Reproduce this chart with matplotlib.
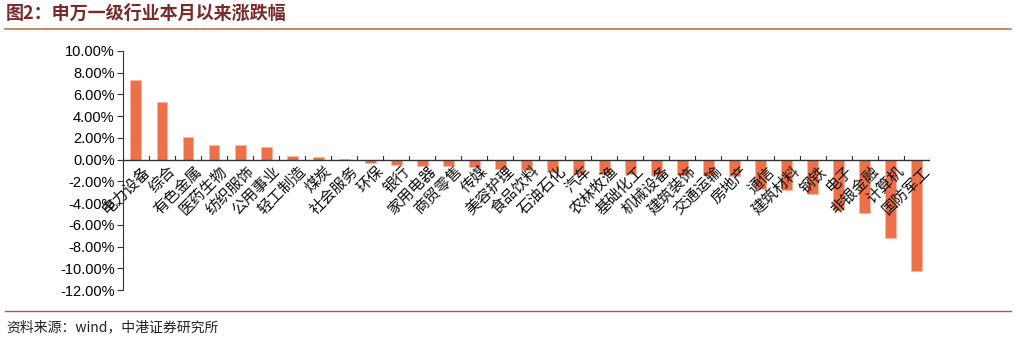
import matplotlib
matplotlib.use('Agg')
import matplotlib.pyplot as plt
from matplotlib.ticker import FuncFormatter

plt.rcParams['font.family'] = ['Noto Sans CJK SC', 'DejaVu Sans']

industries = ['电力设备', '综合', '有色金属', '医药生物', '纺织服饰', '公用事业', '轻工制造', '煤炭',
              '社会服务', '环保', '银行', '家用电器', '商贸零售', '传媒', '美容护理', '食品饮料',
              '石油石化', '汽车', '农林牧渔', '基础化工', '机械设备', '建筑装饰', '交通运输', '房地产',
              '通信', '建筑材料', '钢铁', '电子', '非银金融', '计算机', '国防军工']
changes = [7.34, 5.35, 2.07, 1.38, 1.34, 1.16, 0.30, 0.28,
           0.02, -0.31, -0.51, -0.58, -0.61, -0.67, -0.83, -0.98,
           -1.13, -1.28, -1.30, -1.32, -1.37, -1.38, -1.39, -1.50,
           -2.72, -2.80, -3.15, -4.59, -4.95, -7.25, -10.22]

title = '图2：申万一级行业本月以来涨跌幅'
source = '资料来源：wind，中港证券研究所'

fig = plt.figure(figsize=(10.16, 3.4), dpi=100)
ax = fig.add_axes([0.121, 0.147, 0.794, 0.703])

n = len(industries)
xs = list(range(n))
ax.bar(xs, changes, width=0.42, color='#EE7049', edgecolor='#F8B8A0', linewidth=0.6, zorder=2)

ax.set_xlim(-0.5, n - 0.5)
ax.set_ylim(-12, 10)
ax.set_yticks(range(-12, 11, 2))
ax.yaxis.set_major_formatter(FuncFormatter(lambda v, p: '%.2f%%' % v))
for lb in ax.get_yticklabels():
    lb.set_family(['Liberation Sans', 'DejaVu Sans'])
ax.tick_params(axis='y', direction='out', length=4, width=0.8, labelsize=10.5, pad=2, colors='#333333')
ax.tick_params(axis='y', labelcolor='black')

for s in ['top', 'right', 'bottom']:
    ax.spines[s].set_visible(False)
ax.spines['left'].set_color('#333333')
ax.spines['left'].set_linewidth(0.8)

# zero line with upward ticks at category boundaries
ax.axhline(0, color='#333333', linewidth=1.0, zorder=3)
ax.set_xticks([])
for b in range(n + 1):
    ax.plot([b - 0.5, b - 0.5], [0, 0.35], color='#333333', linewidth=0.8, zorder=3)

for i, name in enumerate(industries):
    ax.text(i + 0.2, -0.3, name, rotation=45, rotation_mode='anchor', ha='right', va='top',
            fontsize=11, color='#111111', zorder=4)

fig.text(0.006, 0.962, title, fontsize=13, fontweight='bold', color='#7A2A2A', va='center')
fig.add_artist(plt.Line2D([0.005, 0.995], [0.915, 0.915], color='#C0704F', linewidth=1.2))
fig.add_artist(plt.Line2D([0.005, 0.995], [0.085, 0.085], color='#B5563A', linewidth=1.0))
fig.text(0.006, 0.038, source, fontsize=10, style='italic', color='#222222', va='center')

plt.savefig('out.png', dpi=100)
